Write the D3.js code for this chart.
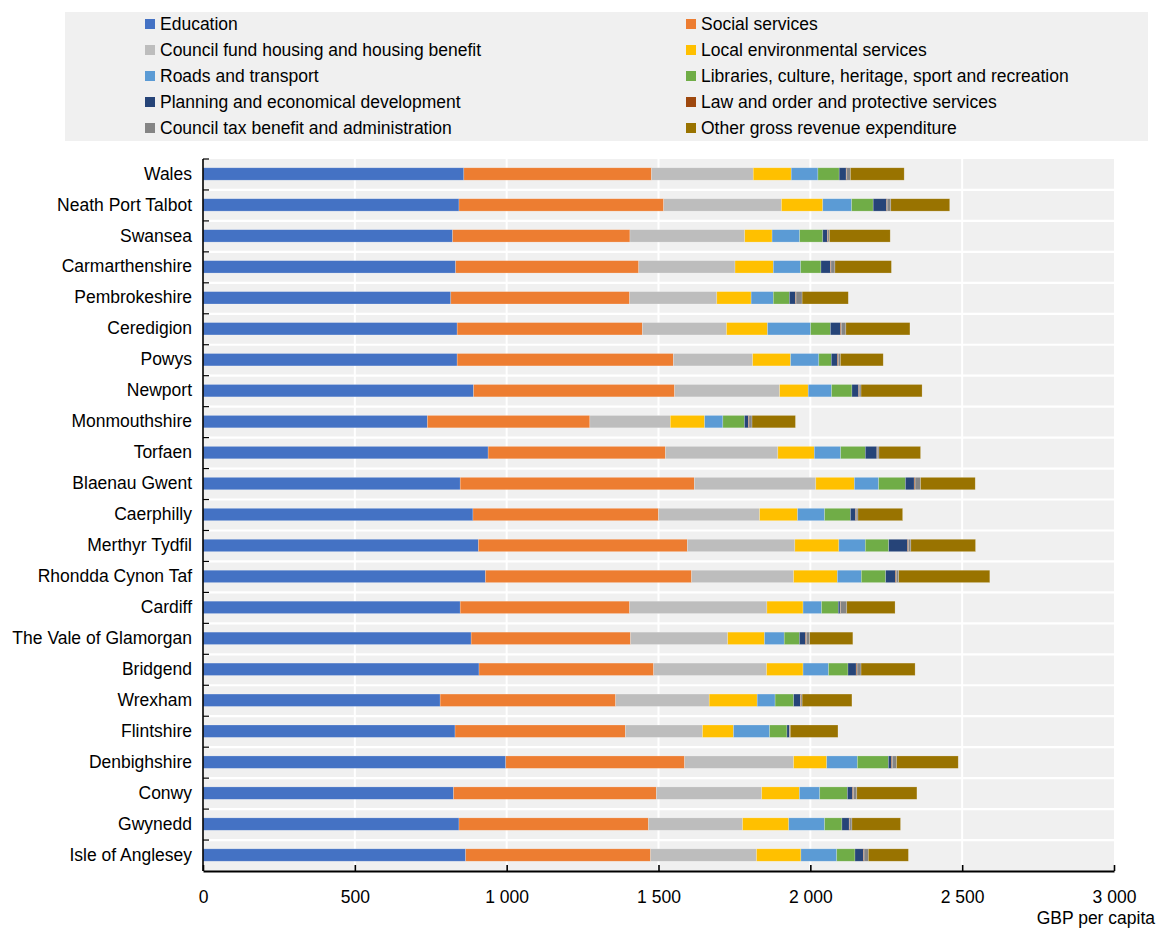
<!DOCTYPE html>
<html>
<head>
<meta charset="utf-8">
<script src="https://cdn.jsdelivr.net/npm/d3@7"></script>
<style>
  html, body { margin: 0; padding: 0; background: #ffffff; }
  svg { display: block; font-family: "Liberation Sans", Arial, sans-serif; }
</style>
</head>
<body>
<svg id="chart" width="1158" height="928"></svg>
<script>
// ---------- DATA ----------
const categories = [
  "Wales", "Neath Port Talbot", "Swansea", "Carmarthenshire", "Pembrokeshire",
  "Ceredigion", "Powys", "Newport", "Monmouthshire", "Torfaen", "Blaenau Gwent",
  "Caerphilly", "Merthyr Tydfil", "Rhondda Cynon Taf", "Cardiff",
  "The Vale of Glamorgan", "Bridgend", "Wrexham", "Flintshire", "Denbighshire",
  "Conwy", "Gwynedd", "Isle of Anglesey"
];

const seriesNames = [
  "Education", "Social services", "Council fund housing and housing benefit",
  "Local environmental services", "Roads and transport",
  "Libraries, culture, heritage, sport and recreation",
  "Planning and economical development", "Law and order and protective services",
  "Council tax benefit and administration", "Other gross revenue expenditure"
];

const education      = [859, 843, 822, 832, 816, 837, 837, 891, 739, 939, 847, 889, 907, 930, 847, 883, 909, 781, 830, 997, 825, 843, 865];
const socialServices = [618, 674, 584, 603, 589, 610, 712, 662, 535, 584, 771, 611, 688, 679, 558, 525, 575, 578, 561, 589, 668, 624, 609];
const housing        = [335, 388, 378, 317, 287, 277, 261, 346, 265, 370, 400, 333, 354, 336, 452, 320, 372, 308, 254, 359, 347, 310, 349];
const localEnv       = [125, 136,  90, 126, 113, 135, 125,  94, 113, 120, 127, 125, 145, 144, 119, 121, 120, 158, 102, 109, 124, 152, 146];
const roads          = [ 88,  95,  91,  90,  73, 142,  93,  77,  60,  87,  80,  89,  87,  79,  61,  65,  84,  59, 119, 101,  67, 118, 118];
const libraries      = [ 70,  71,  76,  67,  53,  65,  41,  67,  71,  81,  88,  85,  77,  80,  55,  50,  64,  61,  57, 102,  91,  57,  60];
const planning       = [ 23,  44,  15,  31,  20,  33,  20,  22,  13,  38,  29,  17,  62,  32,   6,  20,  27,  22,   8,  10,  17,  24,  28];
const lawOrder       = [  2,   2,   2,   2,   2,   3,   3,   2,   2,   2,   3,   2,   3,   3,   2,   3,   3,   2,   1,   3,   3,   2,   2];
const councilTax     = [ 12,  12,   5,  13,  20,  15,   7,   6,  10,   5,  18,   6,   8,   8,  20,  11,  13,   4,   2,  14,  11,   7,  14];
const otherGross     = [177, 194, 200, 186, 152, 211, 141, 201, 143, 137, 180, 147, 213, 300, 159, 142, 178, 164, 157, 203, 198, 160, 132];

const xTicks = [0, 500, 1000, 1500, 2000, 2500, 3000];
const xAxisTitle = "GBP per capita";

const colors = ["#4472C4", "#ED7D31", "#BDBDBD", "#FFC000", "#5B9BD5",
                "#70AD47", "#264478", "#9E480E", "#858585", "#997300"];

// ---------- BUILD TABLE ----------
const seriesArrays = [education, socialServices, housing, localEnv, roads,
                      libraries, planning, lawOrder, councilTax, otherGross];
const table = categories.map((c, i) => {
  const row = { category: c };
  seriesNames.forEach((s, k) => { row[s] = seriesArrays[k][i]; });
  return row;
});

// ---------- LAYOUT ----------
const svg = d3.select("#chart");
const plotLeft = 203, plotRight = 1114, plotTop = 159, plotBottom = 871;
const fontSize = 17.5;

const x = d3.scaleLinear().domain([0, 3000]).range([plotLeft, plotRight]);
const y = d3.scaleBand().domain(categories).range([plotTop, plotBottom]).padding(0);
const color = d3.scaleOrdinal().domain(seriesNames).range(colors);

// Legend
svg.append("rect")
  .attr("x", 65).attr("y", 12).attr("width", 1083).attr("height", 129)
  .attr("fill", "#f0f0f0");

const legendCols = [145, 686];
const legendRowY = [24, 50, 76, 102, 128];
const legend = svg.append("g");
seriesNames.forEach((s, i) => {
  const col = i % 2, row = Math.floor(i / 2);
  const gx = legendCols[col], gy = legendRowY[row];
  legend.append("rect")
    .attr("x", gx).attr("y", gy - 5).attr("width", 10).attr("height", 10)
    .attr("fill", color(s));
  legend.append("text")
    .attr("x", gx + 15).attr("y", gy).attr("dy", "0.35em")
    .attr("font-size", fontSize).attr("fill", "#000")
    .text(s);
});

// Plot background
svg.append("rect")
  .attr("x", plotLeft).attr("y", plotTop)
  .attr("width", plotRight - plotLeft).attr("height", plotBottom - plotTop)
  .attr("fill", "#f0f0f0");

// Vertical gridlines
svg.append("g").selectAll("line")
  .data(xTicks.filter(t => t > 0 && t < 3000))
  .join("line")
  .attr("x1", d => x(d)).attr("x2", d => x(d))
  .attr("y1", plotTop).attr("y2", plotBottom)
  .attr("stroke", "#ffffff").attr("stroke-width", 2);

// Horizontal separators between bands
const boundaries = categories.slice(1).map(c => y(c));
svg.append("g").selectAll("line")
  .data(boundaries)
  .join("line")
  .attr("x1", plotLeft).attr("x2", plotRight)
  .attr("y1", d => d).attr("y2", d => d)
  .attr("stroke", "#ffffff").attr("stroke-width", 2.2);

// Bars
const stack = d3.stack().keys(seriesNames);
const stacked = stack(table);
const barH = y.bandwidth() * 0.4;

svg.append("g").selectAll("g")
  .data(stacked)
  .join("g")
  .attr("fill", d => color(d.key))
  .selectAll("rect")
  .data(d => d)
  .join("rect")
  .attr("x", d => x(d[0]))
  .attr("y", d => y(d.data.category) + (y.bandwidth() - barH) / 2 - 0.5)
  .attr("width", d => Math.max(0, x(d[1]) - x(d[0])))
  .attr("height", barH)
  .attr("stroke", "#ffffff").attr("stroke-opacity", 0.35).attr("stroke-width", 0.6);

// Category labels
svg.append("g").selectAll("text")
  .data(categories)
  .join("text")
  .attr("x", 192)
  .attr("y", d => y(d) + y.bandwidth() / 2 - 1)
  .attr("dy", "0.35em")
  .attr("text-anchor", "end")
  .attr("font-size", fontSize)
  .attr("fill", "#000")
  .text(d => d);

// Left axis line + ticks at band boundaries
const yTickPos = [plotTop].concat(boundaries);
svg.append("line")
  .attr("x1", plotLeft).attr("x2", plotLeft)
  .attr("y1", plotTop).attr("y2", plotBottom)
  .attr("stroke", "#000").attr("stroke-width", 1.6);
svg.append("g").selectAll("line")
  .data(yTickPos)
  .join("line")
  .attr("x1", plotLeft).attr("x2", plotLeft + 6)
  .attr("y1", d => d).attr("y2", d => d)
  .attr("stroke", "#000").attr("stroke-width", 1.2);

// Bottom axis
const fmt = v => d3.format(",")(v).replace(/,/g, " ");
const xAxis = d3.axisBottom(x).tickValues(xTicks).tickSize(-6).tickFormat(fmt).tickSizeOuter(0);
const gx = svg.append("g").attr("transform", `translate(0,${plotBottom})`).call(xAxis);
gx.select(".domain").attr("stroke", "#000").attr("stroke-width", 2);
gx.selectAll(".tick line").attr("stroke", "#000").attr("stroke-width", 1.6);
gx.selectAll(".tick text")
  .attr("y", 26).attr("dy", "0.35em")
  .attr("font-size", fontSize).attr("fill", "#000")
  .attr("font-family", "Liberation Sans, Arial, sans-serif");

// Axis title
svg.append("text")
  .attr("x", 1155).attr("y", 918).attr("dy", "0.35em")
  .attr("text-anchor", "end")
  .attr("font-size", fontSize).attr("fill", "#000")
  .text(xAxisTitle);
</script>
</body>
</html>
